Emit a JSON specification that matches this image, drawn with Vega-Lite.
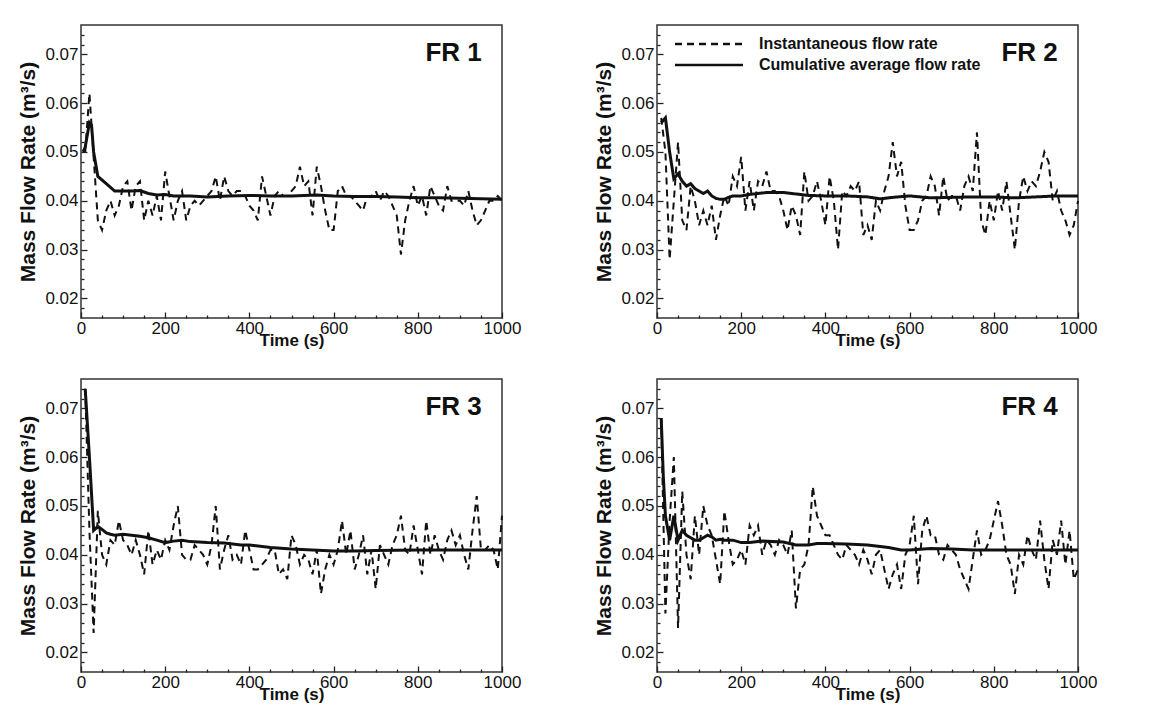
{
"$schema":"https://vega.github.io/schema/vega-lite/v6.json",
"background":"white",
"padding":{"left":17,"top":24,"right":5,"bottom":5},
"config":{"font":"Liberation Sans","view":{"stroke":"#333","strokeWidth":1.5},
"axis":{"labelFont":"Liberation Sans","labelFontSize":17,"labelColor":"#111","titleFont":"Liberation Sans","titleFontSize":17,"titleFontWeight":"bold","titleColor":"#111","grid":false,"domain":false,"tickColor":"#222","tickWidth":1.3,"labelOverlap":false},
"axisY":{"titleFontSize":21}},
"resolve":{"scale":{"strokeDash":"independent"},"legend":{"strokeDash":"independent"}},
"datasets":{
"inst":[
{"panel":"FR 1","t":10,"v":0.050},{"panel":"FR 1","t":20,"v":0.062},{"panel":"FR 1","t":30,"v":0.049},{"panel":"FR 1","t":40,"v":0.036},{"panel":"FR 1","t":50,"v":0.034},{"panel":"FR 1","t":60,"v":0.038},{"panel":"FR 1","t":70,"v":0.040},{"panel":"FR 1","t":80,"v":0.037},{"panel":"FR 1","t":90,"v":0.039},{"panel":"FR 1","t":100,"v":0.043},
{"panel":"FR 1","t":110,"v":0.044},{"panel":"FR 1","t":120,"v":0.038},{"panel":"FR 1","t":130,"v":0.043},{"panel":"FR 1","t":140,"v":0.044},{"panel":"FR 1","t":150,"v":0.036},{"panel":"FR 1","t":160,"v":0.040},{"panel":"FR 1","t":170,"v":0.037},{"panel":"FR 1","t":180,"v":0.041},{"panel":"FR 1","t":190,"v":0.036},{"panel":"FR 1","t":200,"v":0.046},
{"panel":"FR 1","t":210,"v":0.041},{"panel":"FR 1","t":220,"v":0.036},{"panel":"FR 1","t":230,"v":0.040},{"panel":"FR 1","t":240,"v":0.042},{"panel":"FR 1","t":250,"v":0.036},{"panel":"FR 1","t":260,"v":0.039},{"panel":"FR 1","t":270,"v":0.040},{"panel":"FR 1","t":280,"v":0.039},{"panel":"FR 1","t":290,"v":0.040},{"panel":"FR 1","t":300,"v":0.041},
{"panel":"FR 1","t":310,"v":0.042},{"panel":"FR 1","t":320,"v":0.045},{"panel":"FR 1","t":330,"v":0.040},{"panel":"FR 1","t":340,"v":0.045},{"panel":"FR 1","t":350,"v":0.042},{"panel":"FR 1","t":360,"v":0.041},{"panel":"FR 1","t":370,"v":0.042},{"panel":"FR 1","t":380,"v":0.042},{"panel":"FR 1","t":390,"v":0.041},{"panel":"FR 1","t":400,"v":0.039},
{"panel":"FR 1","t":410,"v":0.038},{"panel":"FR 1","t":420,"v":0.036},{"panel":"FR 1","t":430,"v":0.045},{"panel":"FR 1","t":440,"v":0.041},{"panel":"FR 1","t":450,"v":0.037},{"panel":"FR 1","t":460,"v":0.041},{"panel":"FR 1","t":470,"v":0.042},{"panel":"FR 1","t":480,"v":0.041},{"panel":"FR 1","t":490,"v":0.041},{"panel":"FR 1","t":500,"v":0.042},
{"panel":"FR 1","t":510,"v":0.043},{"panel":"FR 1","t":520,"v":0.047},{"panel":"FR 1","t":530,"v":0.043},{"panel":"FR 1","t":540,"v":0.044},{"panel":"FR 1","t":550,"v":0.037},{"panel":"FR 1","t":560,"v":0.047},{"panel":"FR 1","t":570,"v":0.043},{"panel":"FR 1","t":580,"v":0.038},{"panel":"FR 1","t":590,"v":0.034},{"panel":"FR 1","t":600,"v":0.034},
{"panel":"FR 1","t":610,"v":0.042},{"panel":"FR 1","t":620,"v":0.043},{"panel":"FR 1","t":630,"v":0.041},{"panel":"FR 1","t":640,"v":0.041},{"panel":"FR 1","t":650,"v":0.040},{"panel":"FR 1","t":660,"v":0.039},{"panel":"FR 1","t":670,"v":0.038},{"panel":"FR 1","t":680,"v":0.041},{"panel":"FR 1","t":690,"v":0.041},{"panel":"FR 1","t":700,"v":0.042},
{"panel":"FR 1","t":710,"v":0.040},{"panel":"FR 1","t":720,"v":0.042},{"panel":"FR 1","t":730,"v":0.041},{"panel":"FR 1","t":740,"v":0.039},{"panel":"FR 1","t":750,"v":0.037},{"panel":"FR 1","t":760,"v":0.029},{"panel":"FR 1","t":770,"v":0.036},{"panel":"FR 1","t":780,"v":0.040},{"panel":"FR 1","t":790,"v":0.043},{"panel":"FR 1","t":800,"v":0.039},
{"panel":"FR 1","t":810,"v":0.041},{"panel":"FR 1","t":820,"v":0.037},{"panel":"FR 1","t":830,"v":0.043},{"panel":"FR 1","t":840,"v":0.041},{"panel":"FR 1","t":850,"v":0.039},{"panel":"FR 1","t":860,"v":0.038},{"panel":"FR 1","t":870,"v":0.043},{"panel":"FR 1","t":880,"v":0.040},{"panel":"FR 1","t":890,"v":0.040},{"panel":"FR 1","t":900,"v":0.040},
{"panel":"FR 1","t":910,"v":0.039},{"panel":"FR 1","t":920,"v":0.042},{"panel":"FR 1","t":930,"v":0.038},{"panel":"FR 1","t":940,"v":0.035},{"panel":"FR 1","t":950,"v":0.036},{"panel":"FR 1","t":960,"v":0.038},{"panel":"FR 1","t":970,"v":0.040},{"panel":"FR 1","t":980,"v":0.040},{"panel":"FR 1","t":990,"v":0.041},{"panel":"FR 1","t":1000,"v":0.040},

{"panel":"FR 2","t":10,"v":0.057},{"panel":"FR 2","t":20,"v":0.050},{"panel":"FR 2","t":30,"v":0.028},{"panel":"FR 2","t":40,"v":0.040},{"panel":"FR 2","t":50,"v":0.052},{"panel":"FR 2","t":60,"v":0.036},{"panel":"FR 2","t":70,"v":0.034},{"panel":"FR 2","t":80,"v":0.043},{"panel":"FR 2","t":90,"v":0.040},{"panel":"FR 2","t":100,"v":0.035},
{"panel":"FR 2","t":110,"v":0.038},{"panel":"FR 2","t":120,"v":0.035},{"panel":"FR 2","t":130,"v":0.039},{"panel":"FR 2","t":140,"v":0.032},{"panel":"FR 2","t":150,"v":0.037},{"panel":"FR 2","t":160,"v":0.041},{"panel":"FR 2","t":170,"v":0.039},{"panel":"FR 2","t":180,"v":0.045},{"panel":"FR 2","t":190,"v":0.043},{"panel":"FR 2","t":200,"v":0.049},
{"panel":"FR 2","t":210,"v":0.038},{"panel":"FR 2","t":220,"v":0.044},{"panel":"FR 2","t":230,"v":0.038},{"panel":"FR 2","t":240,"v":0.044},{"panel":"FR 2","t":250,"v":0.043},{"panel":"FR 2","t":260,"v":0.046},{"panel":"FR 2","t":270,"v":0.042},{"panel":"FR 2","t":280,"v":0.042},{"panel":"FR 2","t":290,"v":0.041},{"panel":"FR 2","t":300,"v":0.038},
{"panel":"FR 2","t":310,"v":0.034},{"panel":"FR 2","t":320,"v":0.039},{"panel":"FR 2","t":330,"v":0.037},{"panel":"FR 2","t":340,"v":0.033},{"panel":"FR 2","t":350,"v":0.046},{"panel":"FR 2","t":360,"v":0.040},{"panel":"FR 2","t":370,"v":0.041},{"panel":"FR 2","t":380,"v":0.044},{"panel":"FR 2","t":390,"v":0.040},{"panel":"FR 2","t":400,"v":0.035},
{"panel":"FR 2","t":410,"v":0.045},{"panel":"FR 2","t":420,"v":0.040},{"panel":"FR 2","t":430,"v":0.030},{"panel":"FR 2","t":440,"v":0.042},{"panel":"FR 2","t":450,"v":0.041},{"panel":"FR 2","t":460,"v":0.043},{"panel":"FR 2","t":470,"v":0.042},{"panel":"FR 2","t":480,"v":0.044},{"panel":"FR 2","t":490,"v":0.033},{"panel":"FR 2","t":500,"v":0.035},
{"panel":"FR 2","t":510,"v":0.032},{"panel":"FR 2","t":520,"v":0.040},{"panel":"FR 2","t":530,"v":0.038},{"panel":"FR 2","t":540,"v":0.042},{"panel":"FR 2","t":550,"v":0.045},{"panel":"FR 2","t":560,"v":0.052},{"panel":"FR 2","t":570,"v":0.045},{"panel":"FR 2","t":580,"v":0.048},{"panel":"FR 2","t":590,"v":0.039},{"panel":"FR 2","t":600,"v":0.034},
{"panel":"FR 2","t":610,"v":0.034},{"panel":"FR 2","t":620,"v":0.036},{"panel":"FR 2","t":630,"v":0.040},{"panel":"FR 2","t":640,"v":0.041},{"panel":"FR 2","t":650,"v":0.045},{"panel":"FR 2","t":660,"v":0.043},{"panel":"FR 2","t":670,"v":0.037},{"panel":"FR 2","t":680,"v":0.045},{"panel":"FR 2","t":690,"v":0.040},{"panel":"FR 2","t":700,"v":0.041},
{"panel":"FR 2","t":710,"v":0.041},{"panel":"FR 2","t":720,"v":0.038},{"panel":"FR 2","t":730,"v":0.043},{"panel":"FR 2","t":740,"v":0.045},{"panel":"FR 2","t":750,"v":0.042},{"panel":"FR 2","t":760,"v":0.054},{"panel":"FR 2","t":770,"v":0.036},{"panel":"FR 2","t":780,"v":0.033},{"panel":"FR 2","t":790,"v":0.040},{"panel":"FR 2","t":800,"v":0.036},
{"panel":"FR 2","t":810,"v":0.042},{"panel":"FR 2","t":820,"v":0.038},{"panel":"FR 2","t":830,"v":0.044},{"panel":"FR 2","t":840,"v":0.037},{"panel":"FR 2","t":850,"v":0.030},{"panel":"FR 2","t":860,"v":0.040},{"panel":"FR 2","t":870,"v":0.045},{"panel":"FR 2","t":880,"v":0.042},{"panel":"FR 2","t":890,"v":0.044},{"panel":"FR 2","t":900,"v":0.043},
{"panel":"FR 2","t":910,"v":0.046},{"panel":"FR 2","t":920,"v":0.050},{"panel":"FR 2","t":930,"v":0.048},{"panel":"FR 2","t":940,"v":0.040},{"panel":"FR 2","t":950,"v":0.042},{"panel":"FR 2","t":960,"v":0.038},{"panel":"FR 2","t":970,"v":0.036},{"panel":"FR 2","t":980,"v":0.033},{"panel":"FR 2","t":990,"v":0.035},{"panel":"FR 2","t":1000,"v":0.040},

{"panel":"FR 3","t":10,"v":0.074},{"panel":"FR 3","t":20,"v":0.045},{"panel":"FR 3","t":30,"v":0.024},{"panel":"FR 3","t":40,"v":0.049},{"panel":"FR 3","t":50,"v":0.040},{"panel":"FR 3","t":60,"v":0.038},{"panel":"FR 3","t":70,"v":0.043},{"panel":"FR 3","t":80,"v":0.042},{"panel":"FR 3","t":90,"v":0.047},{"panel":"FR 3","t":100,"v":0.043},
{"panel":"FR 3","t":110,"v":0.042},{"panel":"FR 3","t":120,"v":0.040},{"panel":"FR 3","t":130,"v":0.043},{"panel":"FR 3","t":140,"v":0.040},{"panel":"FR 3","t":150,"v":0.036},{"panel":"FR 3","t":160,"v":0.045},{"panel":"FR 3","t":170,"v":0.038},{"panel":"FR 3","t":180,"v":0.041},{"panel":"FR 3","t":190,"v":0.039},{"panel":"FR 3","t":200,"v":0.043},
{"panel":"FR 3","t":210,"v":0.041},{"panel":"FR 3","t":220,"v":0.046},{"panel":"FR 3","t":230,"v":0.050},{"panel":"FR 3","t":240,"v":0.040},{"panel":"FR 3","t":250,"v":0.039},{"panel":"FR 3","t":260,"v":0.039},{"panel":"FR 3","t":270,"v":0.042},{"panel":"FR 3","t":280,"v":0.041},{"panel":"FR 3","t":290,"v":0.040},{"panel":"FR 3","t":300,"v":0.038},
{"panel":"FR 3","t":310,"v":0.042},{"panel":"FR 3","t":320,"v":0.050},{"panel":"FR 3","t":330,"v":0.037},{"panel":"FR 3","t":340,"v":0.041},{"panel":"FR 3","t":350,"v":0.044},{"panel":"FR 3","t":360,"v":0.039},{"panel":"FR 3","t":370,"v":0.040},{"panel":"FR 3","t":380,"v":0.038},{"panel":"FR 3","t":390,"v":0.045},{"panel":"FR 3","t":400,"v":0.041},
{"panel":"FR 3","t":410,"v":0.037},{"panel":"FR 3","t":420,"v":0.037},{"panel":"FR 3","t":430,"v":0.038},{"panel":"FR 3","t":440,"v":0.039},{"panel":"FR 3","t":450,"v":0.041},{"panel":"FR 3","t":460,"v":0.041},{"panel":"FR 3","t":470,"v":0.036},{"panel":"FR 3","t":480,"v":0.037},{"panel":"FR 3","t":490,"v":0.035},{"panel":"FR 3","t":500,"v":0.044},
{"panel":"FR 3","t":510,"v":0.042},{"panel":"FR 3","t":520,"v":0.038},{"panel":"FR 3","t":530,"v":0.040},{"panel":"FR 3","t":540,"v":0.039},{"panel":"FR 3","t":550,"v":0.036},{"panel":"FR 3","t":560,"v":0.041},{"panel":"FR 3","t":570,"v":0.032},{"panel":"FR 3","t":580,"v":0.037},{"panel":"FR 3","t":590,"v":0.040},{"panel":"FR 3","t":600,"v":0.038},
{"panel":"FR 3","t":610,"v":0.041},{"panel":"FR 3","t":620,"v":0.047},{"panel":"FR 3","t":630,"v":0.040},{"panel":"FR 3","t":640,"v":0.045},{"panel":"FR 3","t":650,"v":0.037},{"panel":"FR 3","t":660,"v":0.040},{"panel":"FR 3","t":670,"v":0.044},{"panel":"FR 3","t":680,"v":0.036},{"panel":"FR 3","t":690,"v":0.041},{"panel":"FR 3","t":700,"v":0.033},
{"panel":"FR 3","t":710,"v":0.042},{"panel":"FR 3","t":720,"v":0.040},{"panel":"FR 3","t":730,"v":0.038},{"panel":"FR 3","t":740,"v":0.042},{"panel":"FR 3","t":750,"v":0.044},{"panel":"FR 3","t":760,"v":0.048},{"panel":"FR 3","t":770,"v":0.041},{"panel":"FR 3","t":780,"v":0.040},{"panel":"FR 3","t":790,"v":0.046},{"panel":"FR 3","t":800,"v":0.041},
{"panel":"FR 3","t":810,"v":0.036},{"panel":"FR 3","t":820,"v":0.047},{"panel":"FR 3","t":830,"v":0.040},{"panel":"FR 3","t":840,"v":0.044},{"panel":"FR 3","t":850,"v":0.041},{"panel":"FR 3","t":860,"v":0.039},{"panel":"FR 3","t":870,"v":0.043},{"panel":"FR 3","t":880,"v":0.045},{"panel":"FR 3","t":890,"v":0.042},{"panel":"FR 3","t":900,"v":0.044},
{"panel":"FR 3","t":910,"v":0.040},{"panel":"FR 3","t":920,"v":0.037},{"panel":"FR 3","t":930,"v":0.045},{"panel":"FR 3","t":940,"v":0.052},{"panel":"FR 3","t":950,"v":0.041},{"panel":"FR 3","t":960,"v":0.041},{"panel":"FR 3","t":970,"v":0.042},{"panel":"FR 3","t":980,"v":0.041},{"panel":"FR 3","t":990,"v":0.037},{"panel":"FR 3","t":1000,"v":0.048},

{"panel":"FR 4","t":10,"v":0.068},{"panel":"FR 4","t":20,"v":0.028},{"panel":"FR 4","t":30,"v":0.047},{"panel":"FR 4","t":40,"v":0.060},{"panel":"FR 4","t":50,"v":0.025},{"panel":"FR 4","t":60,"v":0.053},{"panel":"FR 4","t":70,"v":0.040},{"panel":"FR 4","t":80,"v":0.035},{"panel":"FR 4","t":90,"v":0.048},{"panel":"FR 4","t":100,"v":0.040},
{"panel":"FR 4","t":110,"v":0.050},{"panel":"FR 4","t":120,"v":0.046},{"panel":"FR 4","t":130,"v":0.044},{"panel":"FR 4","t":140,"v":0.039},{"panel":"FR 4","t":150,"v":0.034},{"panel":"FR 4","t":160,"v":0.049},{"panel":"FR 4","t":170,"v":0.043},{"panel":"FR 4","t":180,"v":0.038},{"panel":"FR 4","t":190,"v":0.039},{"panel":"FR 4","t":200,"v":0.041},
{"panel":"FR 4","t":210,"v":0.038},{"panel":"FR 4","t":220,"v":0.046},{"panel":"FR 4","t":230,"v":0.044},{"panel":"FR 4","t":240,"v":0.046},{"panel":"FR 4","t":250,"v":0.040},{"panel":"FR 4","t":260,"v":0.043},{"panel":"FR 4","t":270,"v":0.042},{"panel":"FR 4","t":280,"v":0.040},{"panel":"FR 4","t":290,"v":0.043},{"panel":"FR 4","t":300,"v":0.042},
{"panel":"FR 4","t":310,"v":0.040},{"panel":"FR 4","t":320,"v":0.045},{"panel":"FR 4","t":330,"v":0.029},{"panel":"FR 4","t":340,"v":0.037},{"panel":"FR 4","t":350,"v":0.038},{"panel":"FR 4","t":360,"v":0.042},{"panel":"FR 4","t":370,"v":0.054},{"panel":"FR 4","t":380,"v":0.048},{"panel":"FR 4","t":390,"v":0.046},{"panel":"FR 4","t":400,"v":0.044},
{"panel":"FR 4","t":410,"v":0.044},{"panel":"FR 4","t":420,"v":0.042},{"panel":"FR 4","t":430,"v":0.040},{"panel":"FR 4","t":440,"v":0.039},{"panel":"FR 4","t":450,"v":0.042},{"panel":"FR 4","t":460,"v":0.041},{"panel":"FR 4","t":470,"v":0.040},{"panel":"FR 4","t":480,"v":0.038},{"panel":"FR 4","t":490,"v":0.041},{"panel":"FR 4","t":500,"v":0.039},
{"panel":"FR 4","t":510,"v":0.036},{"panel":"FR 4","t":520,"v":0.040},{"panel":"FR 4","t":530,"v":0.041},{"panel":"FR 4","t":540,"v":0.037},{"panel":"FR 4","t":550,"v":0.033},{"panel":"FR 4","t":560,"v":0.036},{"panel":"FR 4","t":570,"v":0.038},{"panel":"FR 4","t":580,"v":0.033},{"panel":"FR 4","t":590,"v":0.040},{"panel":"FR 4","t":600,"v":0.042},
{"panel":"FR 4","t":610,"v":0.048},{"panel":"FR 4","t":620,"v":0.034},{"panel":"FR 4","t":630,"v":0.045},{"panel":"FR 4","t":640,"v":0.048},{"panel":"FR 4","t":650,"v":0.044},{"panel":"FR 4","t":660,"v":0.044},{"panel":"FR 4","t":670,"v":0.040},{"panel":"FR 4","t":680,"v":0.039},{"panel":"FR 4","t":690,"v":0.042},{"panel":"FR 4","t":700,"v":0.041},
{"panel":"FR 4","t":710,"v":0.040},{"panel":"FR 4","t":720,"v":0.037},{"panel":"FR 4","t":730,"v":0.035},{"panel":"FR 4","t":740,"v":0.033},{"panel":"FR 4","t":750,"v":0.039},{"panel":"FR 4","t":760,"v":0.045},{"panel":"FR 4","t":770,"v":0.040},{"panel":"FR 4","t":780,"v":0.041},{"panel":"FR 4","t":790,"v":0.043},{"panel":"FR 4","t":800,"v":0.047},
{"panel":"FR 4","t":810,"v":0.051},{"panel":"FR 4","t":820,"v":0.046},{"panel":"FR 4","t":830,"v":0.040},{"panel":"FR 4","t":840,"v":0.038},{"panel":"FR 4","t":850,"v":0.032},{"panel":"FR 4","t":860,"v":0.040},{"panel":"FR 4","t":870,"v":0.038},{"panel":"FR 4","t":880,"v":0.044},{"panel":"FR 4","t":890,"v":0.041},{"panel":"FR 4","t":900,"v":0.039},
{"panel":"FR 4","t":910,"v":0.047},{"panel":"FR 4","t":920,"v":0.039},{"panel":"FR 4","t":930,"v":0.033},{"panel":"FR 4","t":940,"v":0.043},{"panel":"FR 4","t":950,"v":0.040},{"panel":"FR 4","t":960,"v":0.047},{"panel":"FR 4","t":970,"v":0.038},{"panel":"FR 4","t":980,"v":0.045},{"panel":"FR 4","t":990,"v":0.035},{"panel":"FR 4","t":1000,"v":0.037}
],
"avg":[
{"panel":"FR 1","t":5,"v":0.050},{"panel":"FR 1","t":10,"v":0.051},{"panel":"FR 1","t":20,"v":0.056},{"panel":"FR 1","t":25,"v":0.0555},{"panel":"FR 1","t":30,"v":0.050},{"panel":"FR 1","t":40,"v":0.045},{"panel":"FR 1","t":60,"v":0.0435},{"panel":"FR 1","t":80,"v":0.042},{"panel":"FR 1","t":100,"v":0.042},{"panel":"FR 1","t":120,"v":0.042},{"panel":"FR 1","t":140,"v":0.0421},{"panel":"FR 1","t":160,"v":0.0415},{"panel":"FR 1","t":180,"v":0.0412},{"panel":"FR 1","t":200,"v":0.0413},{"panel":"FR 1","t":220,"v":0.041},{"panel":"FR 1","t":260,"v":0.041},{"panel":"FR 1","t":300,"v":0.0408},{"panel":"FR 1","t":350,"v":0.041},{"panel":"FR 1","t":400,"v":0.0411},{"panel":"FR 1","t":450,"v":0.041},{"panel":"FR 1","t":500,"v":0.041},{"panel":"FR 1","t":560,"v":0.0412},{"panel":"FR 1","t":600,"v":0.041},{"panel":"FR 1","t":650,"v":0.0409},{"panel":"FR 1","t":700,"v":0.0409},{"panel":"FR 1","t":750,"v":0.0408},{"panel":"FR 1","t":800,"v":0.0406},{"panel":"FR 1","t":850,"v":0.0406},{"panel":"FR 1","t":900,"v":0.0405},{"panel":"FR 1","t":950,"v":0.0404},{"panel":"FR 1","t":1000,"v":0.0403},
{"panel":"FR 2","t":10,"v":0.056},{"panel":"FR 2","t":20,"v":0.057},{"panel":"FR 2","t":30,"v":0.050},{"panel":"FR 2","t":40,"v":0.0445},{"panel":"FR 2","t":50,"v":0.0455},{"panel":"FR 2","t":60,"v":0.044},{"panel":"FR 2","t":70,"v":0.043},{"panel":"FR 2","t":80,"v":0.0435},{"panel":"FR 2","t":90,"v":0.0425},{"panel":"FR 2","t":100,"v":0.042},{"panel":"FR 2","t":110,"v":0.0415},{"panel":"FR 2","t":120,"v":0.042},{"panel":"FR 2","t":130,"v":0.041},{"panel":"FR 2","t":140,"v":0.0405},{"panel":"FR 2","t":150,"v":0.0403},{"panel":"FR 2","t":160,"v":0.0403},{"panel":"FR 2","t":170,"v":0.0407},{"panel":"FR 2","t":180,"v":0.041},{"panel":"FR 2","t":200,"v":0.041},{"panel":"FR 2","t":220,"v":0.0413},{"panel":"FR 2","t":260,"v":0.0417},{"panel":"FR 2","t":300,"v":0.0417},{"panel":"FR 2","t":330,"v":0.0414},{"panel":"FR 2","t":360,"v":0.0411},{"panel":"FR 2","t":400,"v":0.041},{"panel":"FR 2","t":450,"v":0.041},{"panel":"FR 2","t":500,"v":0.0408},{"panel":"FR 2","t":530,"v":0.0404},{"panel":"FR 2","t":560,"v":0.0407},{"panel":"FR 2","t":600,"v":0.041},{"panel":"FR 2","t":650,"v":0.0406},{"panel":"FR 2","t":700,"v":0.0407},{"panel":"FR 2","t":750,"v":0.0408},{"panel":"FR 2","t":800,"v":0.0408},{"panel":"FR 2","t":850,"v":0.0406},{"panel":"FR 2","t":900,"v":0.0408},{"panel":"FR 2","t":950,"v":0.041},{"panel":"FR 2","t":1000,"v":0.041},
{"panel":"FR 3","t":10,"v":0.074},{"panel":"FR 3","t":20,"v":0.060},{"panel":"FR 3","t":30,"v":0.045},{"panel":"FR 3","t":40,"v":0.0458},{"panel":"FR 3","t":50,"v":0.0452},{"panel":"FR 3","t":60,"v":0.0445},{"panel":"FR 3","t":70,"v":0.0442},{"panel":"FR 3","t":80,"v":0.044},{"panel":"FR 3","t":100,"v":0.0442},{"panel":"FR 3","t":120,"v":0.044},{"panel":"FR 3","t":140,"v":0.0438},{"panel":"FR 3","t":160,"v":0.0435},{"panel":"FR 3","t":180,"v":0.043},{"panel":"FR 3","t":200,"v":0.0425},{"panel":"FR 3","t":220,"v":0.0428},{"panel":"FR 3","t":240,"v":0.043},{"panel":"FR 3","t":260,"v":0.0427},{"panel":"FR 3","t":300,"v":0.0425},{"panel":"FR 3","t":340,"v":0.0424},{"panel":"FR 3","t":380,"v":0.042},{"panel":"FR 3","t":400,"v":0.042},{"panel":"FR 3","t":450,"v":0.0415},{"panel":"FR 3","t":500,"v":0.0412},{"panel":"FR 3","t":550,"v":0.041},{"panel":"FR 3","t":600,"v":0.0408},{"panel":"FR 3","t":650,"v":0.0408},{"panel":"FR 3","t":700,"v":0.0409},{"panel":"FR 3","t":800,"v":0.041},{"panel":"FR 3","t":900,"v":0.041},{"panel":"FR 3","t":1000,"v":0.041},
{"panel":"FR 4","t":10,"v":0.068},{"panel":"FR 4","t":15,"v":0.056},{"panel":"FR 4","t":20,"v":0.048},{"panel":"FR 4","t":30,"v":0.043},{"panel":"FR 4","t":40,"v":0.048},{"panel":"FR 4","t":50,"v":0.043},{"panel":"FR 4","t":60,"v":0.045},{"panel":"FR 4","t":70,"v":0.044},{"panel":"FR 4","t":80,"v":0.0435},{"panel":"FR 4","t":90,"v":0.043},{"panel":"FR 4","t":100,"v":0.043},{"panel":"FR 4","t":110,"v":0.0435},{"panel":"FR 4","t":120,"v":0.044},{"panel":"FR 4","t":130,"v":0.0437},{"panel":"FR 4","t":140,"v":0.043},{"panel":"FR 4","t":150,"v":0.0432},{"panel":"FR 4","t":160,"v":0.043},{"panel":"FR 4","t":180,"v":0.043},{"panel":"FR 4","t":200,"v":0.0425},{"panel":"FR 4","t":220,"v":0.0425},{"panel":"FR 4","t":250,"v":0.0428},{"panel":"FR 4","t":300,"v":0.0426},{"panel":"FR 4","t":330,"v":0.042},{"panel":"FR 4","t":360,"v":0.042},{"panel":"FR 4","t":380,"v":0.0423},{"panel":"FR 4","t":400,"v":0.0423},{"panel":"FR 4","t":450,"v":0.0422},{"panel":"FR 4","t":500,"v":0.042},{"panel":"FR 4","t":550,"v":0.0415},{"panel":"FR 4","t":580,"v":0.041},{"panel":"FR 4","t":600,"v":0.041},{"panel":"FR 4","t":650,"v":0.0413},{"panel":"FR 4","t":700,"v":0.0412},{"panel":"FR 4","t":750,"v":0.041},{"panel":"FR 4","t":800,"v":0.041},{"panel":"FR 4","t":900,"v":0.041},{"panel":"FR 4","t":1000,"v":0.041}
]},
"columns":2,
"spacing":{"column":155,"row":61},
"bounds":"flush",
"concat":[
{"width":421,"height":293,
"layer":[
{"data":{"name":"inst"},"transform":[{"filter":"datum.panel === 'FR 1'"}],
"mark":{"type":"line","color":"#111","strokeWidth":2,"strokeDash":[7,5]},
"encoding":{"x":{"field":"t","type":"quantitative","scale":{"domain":[0,1000],"nice":false},"axis":{"orient":"bottom","values":[0,200,400,600,800,1000],"format":"d","title":"Time (s)","tickSize":-6,"labelPadding":8,"labelFlush":false,"titlePadding":-4}},
"y":{"field":"v","type":"quantitative","scale":{"domain":[0.016,0.076],"nice":false,"zero":false},"axis":{"orient":"left","values":[0.02,0.03,0.04,0.05,0.06,0.07],"format":".2f","title":"Mass Flow Rate (m³/s)","tickSize":-6,"labelPadding":9,"titlePadding":6}}}},
{"data":{"name":"avg"},"transform":[{"filter":"datum.panel === 'FR 1'"}],
"mark":{"type":"line","color":"#111","strokeWidth":3},
"encoding":{"x":{"field":"t","type":"quantitative","axis":{"orient":"bottom","values":[50,100,150,250,300,350,450,500,550,650,700,750,850,900,950],"labels":false,"title":null,"tickSize":-3}},
"y":{"field":"v","type":"quantitative","axis":{"orient":"left","values":[0.018,0.022,0.024,0.026,0.028,0.032,0.034,0.036,0.038,0.042,0.044,0.046,0.048,0.052,0.054,0.056,0.058,0.062,0.064,0.066,0.068,0.072,0.074],"labels":false,"title":null,"tickSize":-3}}}},
{"data":{"values":[{}]},"mark":{"type":"text","align":"right","baseline":"middle","font":"Liberation Sans","fontSize":26,"fontWeight":"bold","color":"#111"},
"encoding":{"x":{"datum":952,"type":"quantitative","axis":null},"y":{"datum":0.0702,"type":"quantitative","axis":null},"text":{"value":"FR 1"}}}
],
"resolve":{"axis":{"x":"independent","y":"independent"}}},

{"width":421,"height":293,
"layer":[
{"data":{"name":"inst"},"transform":[{"filter":"datum.panel === 'FR 2'"}],
"mark":{"type":"line","color":"#111","strokeWidth":2},
"encoding":{"x":{"field":"t","type":"quantitative","scale":{"domain":[0,1000],"nice":false},"axis":{"orient":"bottom","values":[0,200,400,600,800,1000],"format":"d","title":"Time (s)","tickSize":-6,"labelPadding":8,"labelFlush":false,"titlePadding":-4}},
"y":{"field":"v","type":"quantitative","scale":{"domain":[0.016,0.076],"nice":false,"zero":false},"axis":{"orient":"left","values":[0.02,0.03,0.04,0.05,0.06,0.07],"format":".2f","title":"Mass Flow Rate (m³/s)","tickSize":-6,"labelPadding":9,"titlePadding":6}},
"strokeDash":{"datum":"Instantaneous flow rate","type":"nominal","scale":{"domain":["Instantaneous flow rate","Cumulative average flow rate"],"range":[[7,5],[1,0]]},
"legend":{"title":null,"orient":"none","legendX":39,"legendY":6,"symbolType":"M-3,0H3","symbolSize":514,"symbolStrokeWidth":2.5,"symbolStrokeColor":"#111","symbolFillColor":"transparent","labelFont":"Liberation Sans","labelFontSize":16,"labelFontWeight":"bold","labelColor":"#111","labelOffset":37,"labelLimit":400,"rowPadding":-2}}}},
{"data":{"name":"avg"},"transform":[{"filter":"datum.panel === 'FR 2'"}],
"mark":{"type":"line","color":"#111","strokeWidth":3},
"encoding":{"x":{"field":"t","type":"quantitative","axis":{"orient":"bottom","values":[50,100,150,250,300,350,450,500,550,650,700,750,850,900,950],"labels":false,"title":null,"tickSize":-3}},
"y":{"field":"v","type":"quantitative","axis":{"orient":"left","values":[0.018,0.022,0.024,0.026,0.028,0.032,0.034,0.036,0.038,0.042,0.044,0.046,0.048,0.052,0.054,0.056,0.058,0.062,0.064,0.066,0.068,0.072,0.074],"labels":false,"title":null,"tickSize":-3}},
"strokeDash":{"datum":"Cumulative average flow rate","type":"nominal"}}},
{"data":{"values":[{}]},"mark":{"type":"text","align":"right","baseline":"middle","font":"Liberation Sans","fontSize":26,"fontWeight":"bold","color":"#111"},
"encoding":{"x":{"datum":952,"type":"quantitative","axis":null},"y":{"datum":0.0702,"type":"quantitative","axis":null},"text":{"value":"FR 2"}}}
],
"resolve":{"axis":{"x":"independent","y":"independent"}}},

{"width":421,"height":293,
"layer":[
{"data":{"name":"inst"},"transform":[{"filter":"datum.panel === 'FR 3'"}],
"mark":{"type":"line","color":"#111","strokeWidth":2,"strokeDash":[7,5]},
"encoding":{"x":{"field":"t","type":"quantitative","scale":{"domain":[0,1000],"nice":false},"axis":{"orient":"bottom","values":[0,200,400,600,800,1000],"format":"d","title":"Time (s)","tickSize":-6,"labelPadding":8,"labelFlush":false,"titlePadding":-4}},
"y":{"field":"v","type":"quantitative","scale":{"domain":[0.016,0.076],"nice":false,"zero":false},"axis":{"orient":"left","values":[0.02,0.03,0.04,0.05,0.06,0.07],"format":".2f","title":"Mass Flow Rate (m³/s)","tickSize":-6,"labelPadding":9,"titlePadding":6}}}},
{"data":{"name":"avg"},"transform":[{"filter":"datum.panel === 'FR 3'"}],
"mark":{"type":"line","color":"#111","strokeWidth":3},
"encoding":{"x":{"field":"t","type":"quantitative","axis":{"orient":"bottom","values":[50,100,150,250,300,350,450,500,550,650,700,750,850,900,950],"labels":false,"title":null,"tickSize":-3}},
"y":{"field":"v","type":"quantitative","axis":{"orient":"left","values":[0.018,0.022,0.024,0.026,0.028,0.032,0.034,0.036,0.038,0.042,0.044,0.046,0.048,0.052,0.054,0.056,0.058,0.062,0.064,0.066,0.068,0.072,0.074],"labels":false,"title":null,"tickSize":-3}}}},
{"data":{"values":[{}]},"mark":{"type":"text","align":"right","baseline":"middle","font":"Liberation Sans","fontSize":26,"fontWeight":"bold","color":"#111"},
"encoding":{"x":{"datum":952,"type":"quantitative","axis":null},"y":{"datum":0.0702,"type":"quantitative","axis":null},"text":{"value":"FR 3"}}}
],
"resolve":{"axis":{"x":"independent","y":"independent"}}},

{"width":421,"height":293,
"layer":[
{"data":{"name":"inst"},"transform":[{"filter":"datum.panel === 'FR 4'"}],
"mark":{"type":"line","color":"#111","strokeWidth":2,"strokeDash":[7,5]},
"encoding":{"x":{"field":"t","type":"quantitative","scale":{"domain":[0,1000],"nice":false},"axis":{"orient":"bottom","values":[0,200,400,600,800,1000],"format":"d","title":"Time (s)","tickSize":-6,"labelPadding":8,"labelFlush":false,"titlePadding":-4}},
"y":{"field":"v","type":"quantitative","scale":{"domain":[0.016,0.076],"nice":false,"zero":false},"axis":{"orient":"left","values":[0.02,0.03,0.04,0.05,0.06,0.07],"format":".2f","title":"Mass Flow Rate (m³/s)","tickSize":-6,"labelPadding":9,"titlePadding":6}}}},
{"data":{"name":"avg"},"transform":[{"filter":"datum.panel === 'FR 4'"}],
"mark":{"type":"line","color":"#111","strokeWidth":3},
"encoding":{"x":{"field":"t","type":"quantitative","axis":{"orient":"bottom","values":[50,100,150,250,300,350,450,500,550,650,700,750,850,900,950],"labels":false,"title":null,"tickSize":-3}},
"y":{"field":"v","type":"quantitative","axis":{"orient":"left","values":[0.018,0.022,0.024,0.026,0.028,0.032,0.034,0.036,0.038,0.042,0.044,0.046,0.048,0.052,0.054,0.056,0.058,0.062,0.064,0.066,0.068,0.072,0.074],"labels":false,"title":null,"tickSize":-3}}}},
{"data":{"values":[{}]},"mark":{"type":"text","align":"right","baseline":"middle","font":"Liberation Sans","fontSize":26,"fontWeight":"bold","color":"#111"},
"encoding":{"x":{"datum":952,"type":"quantitative","axis":null},"y":{"datum":0.0702,"type":"quantitative","axis":null},"text":{"value":"FR 4"}}}
],
"resolve":{"axis":{"x":"independent","y":"independent"}}}
]
}
